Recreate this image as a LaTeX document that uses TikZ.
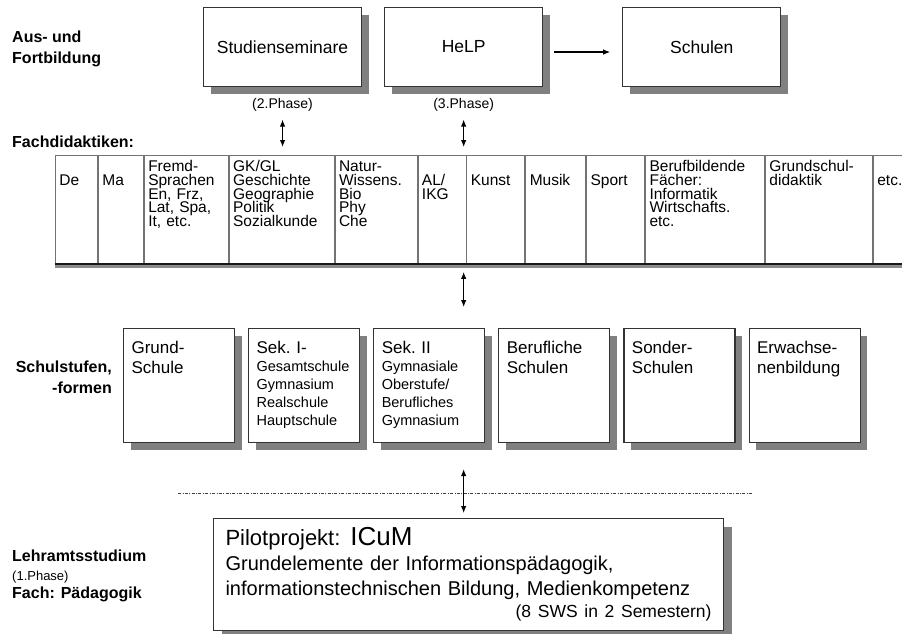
\documentclass[tikz,border=0pt]{standalone}
\usepackage{fontspec}
\setmainfont{Liberation Sans}
\usetikzlibrary{positioning,shadows,arrows.meta}
\newcommand{\fachfont}{\fontsize{15.5}{13.8}\selectfont\lineskiplimit=-20pt\relax}
\newcommand{\klein}{\fontsize{14.5}{18}\selectfont}
\tikzstyle{topbox} = [draw=black!80, line width=1.1, fill=white, rectangle, minimum width=158, minimum height=79, font=\fontsize{17.5}{20}\selectfont, drop shadow={shadow xshift=7pt, shadow yshift=-7pt, fill=black!50, opacity=1}]
\tikzstyle{phase} = [inner sep=2, font=\fontsize{14}{16}\selectfont]
\tikzstyle{fach} = [draw=black!55, line width=0.9, rectangle, anchor=north west, inner xsep=4, inner ysep=0, align=left, text height=16, text depth=92, font=\fachfont]
\tikzstyle{schule} = [draw=black!80, line width=1.1, fill=white, rectangle, inner xsep=8, inner ysep=0, text width=95, align=left, text height=25, text depth=89, font=\fontsize{17}{20}\selectfont, drop shadow={shadow xshift=7pt, shadow yshift=-7pt, fill=black!50, opacity=1}]
\tikzstyle{pilotbox} = [draw=black!80, line width=1.1, fill=white, rectangle, anchor=north west, inner xsep=12, inner ysep=0, text width=486, align=left, text height=27, text depth=85, font=\fontsize{20}{25}\selectfont, drop shadow={shadow xshift=8pt, shadow yshift=-8pt, fill=black!50, opacity=1}]
\tikzstyle{lbl} = [inner sep=0, font=\bfseries\fontsize{16}{21}\selectfont]

\begin{document}
\begin{tikzpicture}[x=1pt, y=-1pt, >={Latex[length=7pt,width=5.5pt]}]
    \useasboundingbox (0,0) rectangle (902,634);

    % Aus- und Fortbildung
    \node [lbl, anchor=west, align=left] (ausfort) at (12,49) {Aus- und\\Fortbildung};
    \node [topbox, anchor=north west] (sem) at (203,7) {Studienseminare};
    \node [topbox, right=22pt of sem] (help) {HeLP};
    \node [topbox, right=79pt of help] (schulen) {Schulen};
    \node [phase, below=9pt of sem] (phase2) {(2.Phase)};
    \node [phase, below=9pt of help] (phase3) {(3.Phase)};

    % Fachdidaktiken
    \node [lbl, anchor=west] (fachlbl) at (12,142) {Fachdidaktiken:};
    \node [fach, text width=34] (de) at (55,155) {\mbox{}\\De};
    \node [fach, text width=37, right=0pt of de] (ma) {\mbox{}\\Ma};
    \node [fach, text width=76, right=0pt of ma] (fremd) {Fremd-\\Sprachen\\En, Frz,\\Lat, Spa,\\It, etc.};
    \node [fach, text width=97, right=0pt of fremd] (gk) {GK/GL\\Geschichte\\Geographie\\Politik\\Sozialkunde};
    \node [fach, text width=74, right=0pt of gk] (natur) {Natur-\\Wissens.\\Bio\\Phy\\Che};
    \node [fach, text width=40, right=0pt of natur] (al) {\mbox{}\\AL/\\IKG};
    \node [fach, text width=50, right=0pt of al] (kunst) {\mbox{}\\Kunst};
    \node [fach, text width=52, right=0pt of kunst] (musik) {\mbox{}\\Musik};
    \node [fach, text width=50, right=0pt of musik] (sport) {\mbox{}\\Sport};
    \node [fach, text width=111, right=0pt of sport] (beruf) {Berufbildende\\Fächer:\\Informatik\\Wirtschafts.\\etc.};
    \node [fach, text width=99, right=0pt of beruf] (grund) {Grundschul-\\didaktik};
    \node [fach, text width=32, right=0pt of grund] (etc) {\mbox{}\\etc.};
    \draw [black!45, line width=3] ([yshift=-3]de.south west) -- ([yshift=-3]etc.south east);
    \draw [black!90, line width=2.5] (de.south west) -- (etc.south east);

    % Schulstufen, -formen
    \node [lbl, anchor=east, align=right] (schullbl) at (112,377.5) {Schulstufen,\\-formen};
    \node [schule, anchor=north west] (gs) at (123,328) {Grund-\\Schule};
    \node [schule, right=13pt of gs] (sek1) {Sek.\ I-\par{\klein Gesamtschule\\Gymnasium\\Realschule\\Hauptschule\par}};
    \node [schule, right=13pt of sek1] (sek2) {Sek.\ II\par{\klein Gymnasiale\\Oberstufe/\\Berufliches\\Gymnasium\par}};
    \node [schule, right=13pt of sek2] (bs) {Berufliche\\Schulen};
    \node [schule, right=13pt of bs] (sonder) {Sonder-\\Schulen};
    \node [schule, right=13pt of sonder] (erw) {Erwachse-\\nenbildung};

    % Lehramtsstudium
    \node [lbl, anchor=west, align=left] (lehramt) at (12,576) {Lehramtsstudium\\[-2pt]{\mdseries\fontsize{13}{15}\selectfont (1.Phase)}\\[-3pt]Fach: Pädagogik};
    \node [pilotbox, minimum width=510] (pilot) at (213,518) {{\fontsize{22}{25}\selectfont Pilotprojekt: }{\fontsize{26}{25}\selectfont ICuM}\\Grundelemente der Informationspädagogik,\\informationstechnischen Bildung, Medienkompetenz\par{\raggedleft\fontsize{17.5}{22}\selectfont (8 SWS in 2 Semestern)\par}};
    \draw [black!75, line width=0.8, dash pattern=on 3pt off 1.5pt on 0.8pt off 1.5pt] (178,493) -- (753,493);

    % Connections
    \draw [->, line width=1.1, shorten <=11pt, shorten >=12pt] ([yshift=-5pt]help.east) -- ([yshift=-5pt]schulen.west);
    \draw [<->, line width=1.1, shorten <=6pt, shorten >=8pt] (phase2.south) -- (phase2.south |- gk.north);
    \draw [<->, line width=1.1, shorten <=6pt, shorten >=8pt] (phase3.south) -- (phase3.south |- al.north);
    \draw [<->, line width=1.1, shorten <=8pt, shorten >=21pt] (help.south |- al.south) -- (help.south |- sek2.north);
    \draw [<->, line width=1.1, shorten <=26pt, shorten >=5pt] (help.south |- sek2.south) -- (help.south |- pilot.north);
\end{tikzpicture}
\end{document}
